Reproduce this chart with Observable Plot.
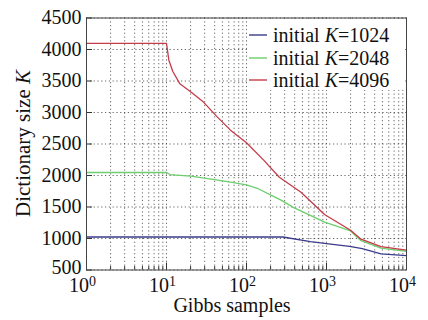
<!DOCTYPE html>
<html><head><meta charset="utf-8">
<script src="https://cdn.jsdelivr.net/npm/d3@7"></script>
<script src="https://cdn.jsdelivr.net/npm/@observablehq/plot@0.6"></script>
<style>body{margin:0;background:#fff} svg, svg text{font-family:"Liberation Serif",serif !important}</style>
</head><body><div id="chart"></div>
<script>
// ---- data ----
const seriesNames = ["1024", "2048", "4096"];
const blueX = [1, 285, 630, 1000, 1940, 2800, 4800, 10000];
const blueY = [1024, 1024, 950, 920, 875, 840, 757, 728];
const greenX = [1, 10, 11, 20, 40, 63, 100, 140, 220, 270, 390, 950, 2000, 2700, 4800, 10000];
const greenY = [2048, 2048, 2015, 1990, 1935, 1895, 1850, 1790, 1665, 1610, 1490, 1259, 1120, 965, 848, 795];
const redX = [1, 10, 10.7, 12, 14.7, 20, 29, 43, 63, 100, 165, 257, 480, 945, 2000, 2700, 4800, 10000];
const redY = [4096, 4096, 3830, 3650, 3455, 3330, 3165, 2930, 2720, 2520, 2240, 1973, 1735, 1380, 1130, 990, 870, 815];
const xTicks = [1, 10, 100, 1000, 10000];
const xTickExp = ["0", "1", "2", "3", "4"];
const yTicks = [500, 1000, 1500, 2000, 2500, 3000, 3500, 4000, 4500];
const colors = ["#3b3b8c", "#6ccf6c", "#c43c48"];
const xLabel = "Gibbs samples";
const yLabel = "Dictionary size ";

// minor log ticks
const minorTicks = [];
for (let k = 0; k < 4; k++) for (let m = 1; m <= 9; m++) minorTicks.push(m * Math.pow(10, k));
minorTicks.push(10000);

const data = [];
[[blueX, blueY], [greenX, greenY], [redX, redY]].forEach(([xs, ys], i) => {
  xs.forEach((x, j) => data.push({s: seriesNames[i], x, y: ys[j]}));
});

const W = 428, H = 320, mL = 86, mR = 22, mT = 17.5, mB = 50.5;
const innerW = W - mL - mR, innerH = H - mT - mB;
const FONT = "'Liberation Serif', serif";

const svg = Plot.plot({
  width: W, height: H,
  marginLeft: mL, marginRight: mR, marginTop: mT, marginBottom: mB,
  style: {fontFamily: FONT, fontSize: "20px", color: "#111", background: "white"},
  x: {type: "log", domain: [1, 1e4]},
  y: {domain: [500, 4500]},
  color: {domain: seriesNames, range: colors},
  marks: [
    Plot.gridX(minorTicks, {stroke: "#333", strokeOpacity: 0.75, strokeDasharray: "1.2,2.6"}),
    Plot.gridY(yTicks, {stroke: "#333", strokeOpacity: 0.75, strokeDasharray: "1.2,2.6"}),
    Plot.tickX(minorTicks, {x: d => d, insetTop: innerH - 3.5, stroke: "#333"}),
    Plot.tickX(xTicks, {x: d => d, insetTop: innerH - 7, stroke: "#333"}),
    Plot.tickY(yTicks, {y: d => d, insetRight: innerW - 6, stroke: "#333"}),
    Plot.line(data, {x: "x", y: "y", z: "s", stroke: "s", strokeWidth: 1.3}),
    Plot.axisX(xTicks, {tickSize: 0, tickPadding: 8, tickFormat: () => "10", label: null, fontSize: 20}),
    Plot.axisY(yTicks, {tickSize: 0, tickPadding: 5, tickFormat: d => String(d), label: null, fontSize: 20}),
    Plot.frame({stroke: "#444"})
  ]
});
document.getElementById("chart").appendChild(svg);

const s = d3.select(svg);
// superscripts on x tick labels
s.selectAll("g[aria-label='x-axis tick label'] text").each(function(d, i) {
  const t = d3.select(this);
  t.text(null).attr("dx", -4);
  t.append("tspan").text("10");
  t.append("tspan").attr("dy", "-0.45em").attr("font-size", "14px").text(xTickExp[i]);
});
// nudge lowest y label up slightly
s.selectAll("g[aria-label='y-axis tick label'] text").filter((d, i) => i === 0).attr("dy", "-0.1em");

// axis labels
s.append("text").attr("x", 232).attr("y", 312).attr("text-anchor", "middle")
  .attr("font-family", FONT).attr("font-size", 20).attr("fill", "#111").text(xLabel);
const yl = s.append("text").attr("transform", "translate(30,143.5) rotate(-90)")
  .attr("text-anchor", "middle").attr("font-family", FONT).attr("font-size", 21).attr("fill", "#111");
yl.append("tspan").text(yLabel);
yl.append("tspan").attr("font-style", "italic").text("K");

// legend
const lg = s.append("g");
lg.append("rect").attr("x", 247).attr("y", 20).attr("width", 157).attr("height", 70).attr("fill", "white");
const ly = [35, 58, 80];
seriesNames.forEach((n, i) => {
  lg.append("line").attr("x1", 249).attr("x2", 267).attr("y1", ly[i]).attr("y2", ly[i])
    .attr("stroke", colors[i]).attr("stroke-width", 1.4);
  const t = lg.append("text").attr("x", 273).attr("y", ly[i] + 6.5).attr("text-anchor", "start")
    .attr("font-family", FONT).attr("font-size", 20).attr("fill", "#111");
  t.append("tspan").text("initial ");
  t.append("tspan").attr("font-style", "italic").text("K");
  t.append("tspan").text("=" + n);
});
</script>
</body></html>
